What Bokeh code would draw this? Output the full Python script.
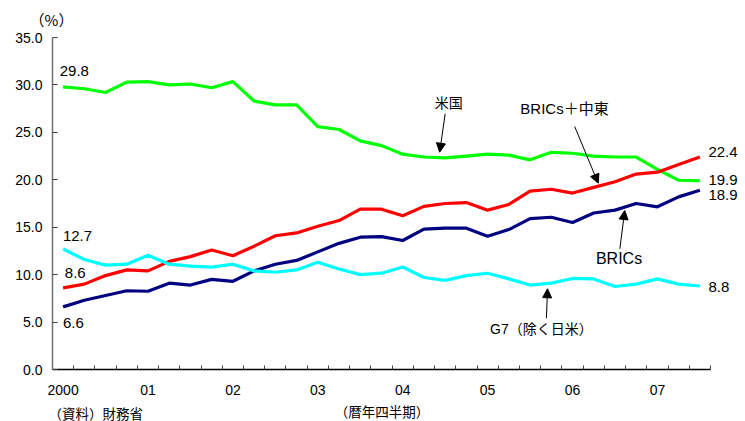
from bokeh.plotting import figure
from bokeh.models import Range1d, FixedTicker, Label, Arrow, NormalHead, PrintfTickFormatter
from bokeh.embed import file_html
from bokeh.resources import INLINE

# ---- data (quarterly, 2000Q1 .. 2007Q3) ----
quarters = list(range(31))
year_labels = ["2000", "01", "02", "03", "04", "05", "06", "07"]
us = [29.8, 29.6, 29.2, 30.3, 30.35, 30.0, 30.1, 29.7, 30.35, 28.3, 27.9, 27.9, 25.6, 25.3,
      24.1, 23.6, 22.7, 22.4, 22.3, 22.5, 22.7, 22.6, 22.1, 22.9, 22.8, 22.5, 22.4, 22.4,
      21.1, 19.95, 19.9]
bric_me = [8.6, 9.0, 9.9, 10.5, 10.4, 11.4, 11.9, 12.6, 12.0, 13.0, 14.1, 14.4, 15.1, 15.7,
           16.9, 16.9, 16.2, 17.2, 17.5, 17.6, 16.8, 17.4, 18.8, 19.0, 18.6, 19.2, 19.8, 20.6,
           20.8, 21.6, 22.4]
brics = [6.6, 7.3, 7.8, 8.3, 8.25, 9.1, 8.9, 9.5, 9.3, 10.4, 11.1, 11.5, 12.4, 13.3, 13.95,
         14.0, 13.6, 14.8, 14.9, 14.9, 14.05, 14.75, 15.9, 16.05, 15.5, 16.5, 16.8, 17.5,
         17.15, 18.2, 18.9]
g7 = [12.7, 11.6, 11.0, 11.1, 12.05, 11.1, 10.9, 10.8, 11.1, 10.4, 10.25, 10.5, 11.3, 10.6,
      10.0, 10.15, 10.8, 9.7, 9.4, 9.9, 10.15, 9.55, 8.9, 9.1, 9.6, 9.55, 8.75, 9.0, 9.55,
      9.0, 8.8]
y_ticks = [0, 5, 10, 15, 20, 25, 30, 35]

LAT = "Liberation Sans"
MIX = "Liberation Sans, Noto Sans CJK JP"
CJK = "Noto Sans CJK JP"

# layout: plot box from x=52..710 px, y=37..369 px inside a 745x421 canvas
W, H = 745, 421
L, R, T, B = 52, 710, 37, 369
x0, x1 = -0.5, len(quarters) - 0.5
y0, y1 = 0, 35
sx = (R - L) / (x1 - x0)
sy = (B - T) / (y1 - y0)
xr = Range1d(x0 - L / sx, x1 + (W - R) / sx)
yr = Range1d(y0 - (H - B) / sy, y1 + T / sy)

p = figure(width=W, height=H, output_backend="svg", toolbar_location=None, title=None,
           x_range=xr, y_range=yr, min_border=0)
p.xgrid.visible = False
p.ygrid.visible = False
p.outline_line_color = None
p.background_fill_color = "white"
p.border_fill_color = "white"

# x axis
p.xaxis.fixed_location = y0
p.xaxis.bounds = (x0, x1)
p.xaxis.ticker = FixedTicker(ticks=[4 * i for i in range(len(year_labels))],
                             minor_ticks=[i - 0.5 for i in range(len(quarters) + 1)])
p.xaxis.major_label_overrides = {4 * i: lab for i, lab in enumerate(year_labels)}
p.xaxis.major_tick_line_color = None
p.xaxis.minor_tick_in = 4
p.xaxis.minor_tick_out = 0
p.xaxis.minor_tick_line_color = "#404040"
p.xaxis.axis_line_color = "black"
p.xaxis.axis_line_width = 1.5
p.xaxis.major_label_text_font = LAT
p.xaxis.major_label_text_font_size = "14px"
p.xaxis.major_label_text_color = "black"
p.xaxis.major_label_standoff = 9

# y axis
p.yaxis.fixed_location = x0
p.yaxis.bounds = (y0, y1)
p.yaxis.ticker = FixedTicker(ticks=y_ticks)
p.yaxis.formatter = PrintfTickFormatter(format="%.1f")
p.yaxis.major_tick_in = 5
p.yaxis.major_tick_out = 0
p.yaxis.minor_tick_line_color = None
p.yaxis.axis_line_color = "#707070"
p.yaxis.axis_line_width = 1.5
p.yaxis.major_tick_line_color = "#404040"
p.yaxis.major_label_text_font = LAT
p.yaxis.major_label_text_font_size = "14px"
p.yaxis.major_label_text_color = "black"
p.yaxis.major_label_standoff = 10

# lines
p.line(quarters, us, line_color="#00FF00", line_width=3.2)
p.line(quarters, bric_me, line_color="#FF0000", line_width=3.2)
p.line(quarters, brics, line_color="#000080", line_width=3.2)
p.line(quarters, g7, line_color="#00FFFF", line_width=3.2)

def lab(x, y, text, font=LAT, size="15px", align="left", units="data"):
    p.add_layout(Label(x=x, y=y, text=text, x_units=units, y_units=units,
                       text_font=font, text_font_size=size, text_color="black",
                       text_align=align, text_baseline="middle", level="overlay"))

# start / end values
lab(-0.16, 31.47, f"{us[0]:.1f}")
lab(-0.01, 14.1, f"{g7[0]:.1f}")
lab(0.08, 10.17, f"{bric_me[0]:.1f}")
lab(-0.01, 4.9, f"{brics[0]:.1f}")
lab(30.4, 22.93, f"{bric_me[-1]:.1f}")
lab(30.4, 19.96, f"{us[-1]:.1f}")
lab(30.4, 18.4, f"{brics[-1]:.1f}")
lab(30.4, 8.67, f"{g7[-1]:.1f}")

# series names with arrows
lab(18.17, 28.18, "米国", font=CJK, size="14px", align="center")
lab(23.62, 27.48, "BRICs＋中東", font=MIX, size="15px", align="center")
lab(26.19, 11.75, "BRICs", font=LAT, size="16px", align="center")
lab(22.53, 4.27, "G7（除く日米）", font=MIX, size="14px", align="center")

def arrow(xa, ya, xb, yb):
    p.add_layout(Arrow(end=NormalHead(size=9, fill_color="black", line_color="black"),
                       x_start=xa, y_start=ya, x_end=xb, y_end=yb,
                       line_color="black", line_width=1))

arrow(18.0, 26.96, 17.74, 22.91)
arrow(24.1, 25.62, 25.21, 19.64)
arrow(26.23, 12.72, 26.46, 16.76)
arrow(22.77, 5.41, 22.82, 8.51)

# texts around the plot box (screen units, origin bottom-left of canvas)
lab(51, H - 19, "（%）", font=CJK, size="15px", align="center", units="screen")
lab(381.5, H - 410, "（暦年四半期）", font=CJK, size="13.5px", align="center", units="screen")
lab(48, H - 412, "（資料）財務省", font=CJK, size="13.5px", align="left", units="screen")

open("out.html", "w").write(file_html(p, INLINE))
